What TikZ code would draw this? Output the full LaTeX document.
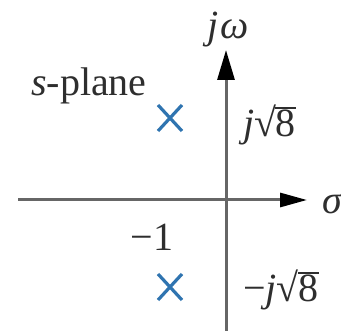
\documentclass[tikz,border=0pt]{standalone}
\usepackage{fontspec}
\setmainfont{Liberation Serif}
\usetikzlibrary{arrows.meta}
\definecolor{axisgray}{HTML}{666666}
\definecolor{poleblue}{HTML}{2F74B0}
\definecolor{textgray}{HTML}{2E2E2E}
\newcommand{\sqeight}{√\kern-0.02em\rlap{\rule[0.70em]{0.52em}{0.045em}}8}
\begin{document}
\begin{tikzpicture}[x=1pt,y=-1pt,
  axis/.style={draw=axisgray,line width=3pt},
  lbl/.style={inner sep=0pt,text=textgray,font=\fontsize{40}{44}\selectfont},
  pole/.style={draw=poleblue,line width=3.2pt,line cap=butt}]
\useasboundingbox (0,0) rectangle (341,331);
\coordinate (O) at (226,200);
\coordinate (ybot) at (226,331);
\coordinate (ytop) at (226,50);
\coordinate (xleft) at (18,200);
\coordinate (xright) at (307,200);
\draw[axis,-{Triangle[length=30pt,width=17pt,color=black]}] (ybot) -- (ytop);
\draw[axis,-{Triangle[length=27pt,width=14pt,color=black]}] (xleft) -- (xright);
% poles
\coordinate (p1) at (170,118);
\coordinate (p2) at (170,287);
\draw[pole] ([shift={(-12,-13)}]p1) -- ([shift={(12,13)}]p1)
            ([shift={(-12,13)}]p1) -- ([shift={(12,-13)}]p1);
\draw[pole] ([shift={(-12,-13)}]p2) -- ([shift={(12,13)}]p2)
            ([shift={(-12,13)}]p2) -- ([shift={(12,-13)}]p2);
% labels
\node[lbl] (jw) at (228,30) {\textit{j}\kern0.05em\textit{ω}};
\node[lbl,anchor=west] (sig) at (322,203) {\textit{σ}};
\node[lbl,anchor=west] (splane) at (31,86) {\textit{s}-plane};
\node[lbl,anchor=west] (jr8) at (243,125) {\textit{j}\sqeight};
\node[lbl] (m1) at (152,237) {−1};
\node[lbl,anchor=west] (mjr8) at (243,290) {−\textit{j}\sqeight};
\end{tikzpicture}
\end{document}
